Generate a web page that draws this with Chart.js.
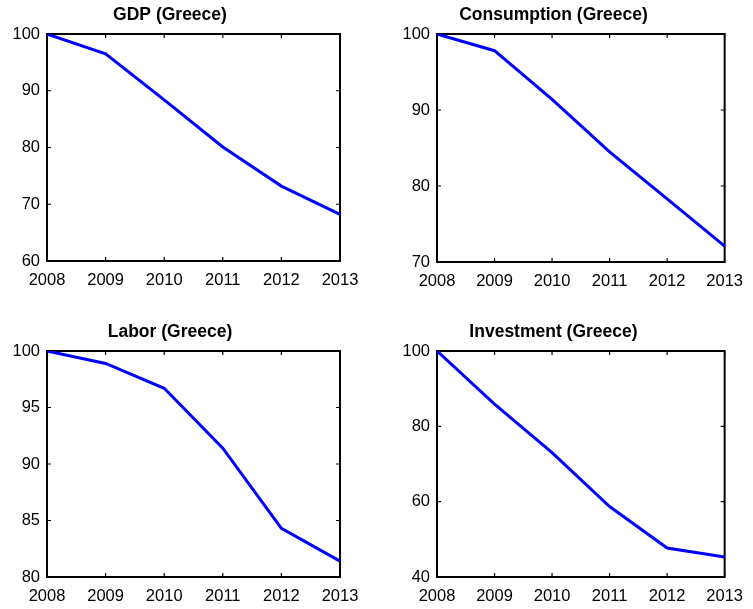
<!DOCTYPE html>
<html>
<head>
<meta charset="utf-8">
<script src="https://cdn.jsdelivr.net/npm/chart.js@4.4.1/dist/chart.umd.min.js"></script>
<style>
  html, body { margin: 0; padding: 0; background: #fff; }
  #fig { position: relative; width: 753px; height: 609px; overflow: hidden; }
  #fig canvas { position: absolute; }
</style>
</head>
<body>
<div id="fig">
  <canvas id="gdpChart" width="376" height="300" style="left:0;top:0"></canvas>
  <canvas id="consChart" width="377" height="300" style="left:376px;top:0"></canvas>
  <canvas id="laborChart" width="376" height="292" style="left:0;top:317px"></canvas>
  <canvas id="invChart" width="377" height="292" style="left:376px;top:317px"></canvas>
</div>
<script>
// Index values, 2008 = 100
const years = ["2008", "2009", "2010", "2011", "2012", "2013"];
const gdp = [100, 96.5, 88.4, 80.1, 73.2, 68.2];
const consumption = [100, 97.8, 91.4, 84.5, 78.3, 72.1];
const labor = [100, 98.9, 96.7, 91.4, 84.3, 81.4];
const investment = [100, 85.9, 73.0, 58.7, 47.7, 45.3];

// y axis [min, max, step]
const gdpAxis = [60, 100, 10];
const consAxis = [70, 100, 10];
const laborAxis = [80, 100, 5];
const invAxis = [40, 100, 20];

const FONT = "'Liberation Sans', Arial, Helvetica, sans-serif";

// MATLAB-like box with inward ticks on all four sides
const boxPlugin = {
  id: "box",
  beforeDatasetsDraw(chart) {
    const { ctx, chartArea: a, scales } = chart;
    const len = 4;
    ctx.save();
    ctx.strokeStyle = "#000";
    ctx.lineWidth = 1.2;
    ctx.beginPath();
    scales.x.ticks.forEach((t, i) => {
      const px = scales.x.getPixelForTick(i);
      ctx.moveTo(px, a.bottom); ctx.lineTo(px, a.bottom - len);
      ctx.moveTo(px, a.top); ctx.lineTo(px, a.top + len);
    });
    scales.y.ticks.forEach((t, i) => {
      const py = scales.y.getPixelForTick(i);
      ctx.moveTo(a.left, py); ctx.lineTo(a.left + len, py);
      ctx.moveTo(a.right, py); ctx.lineTo(a.right - len, py);
    });
    ctx.stroke();
    ctx.lineWidth = 2;
    ctx.strokeRect(a.left, a.top, a.right - a.left, a.bottom - a.top);
    ctx.restore();
  }
};

function makePanel(id, title, values, axis, yWidth, xHeight, padRight) {
  const ctx = document.getElementById(id).getContext("2d");
  return new Chart(ctx, {
    type: "line",
    data: {
      labels: years,
      datasets: [{
        data: values,
        borderColor: "#0000ff",
        borderWidth: 3,
        pointRadius: 0,
        tension: 0,
        fill: false
      }]
    },
    options: {
      responsive: false,
      animation: false,
      layout: { padding: { left: 0, right: padRight, top: 0, bottom: 0 } },
      plugins: {
        legend: { display: false },
        tooltip: { enabled: false },
        title: {
          display: true,
          text: title,
          color: "#000",
          font: { family: FONT, size: 17.5, weight: "bold" },
          padding: { top: 5, bottom: 8 }
        }
      },
      scales: {
        x: {
          type: "category",
          offset: false,
          grid: { display: false, drawTicks: false },
          border: { display: false },
          ticks: {
            color: "#000",
            font: { family: FONT, size: 16.5 },
            padding: 10,
            maxRotation: 0,
            autoSkip: false
          },
          afterFit(scale) { scale.height = xHeight; }
        },
        y: {
          min: axis[0],
          max: axis[1],
          grid: { display: false, drawTicks: false },
          border: { display: false },
          ticks: {
            stepSize: axis[2],
            color: "#000",
            font: { family: FONT, size: 16.5 },
            padding: 7
          },
          afterFit(scale) { scale.width = yWidth; }
        }
      }
    },
    plugins: [boxPlugin]
  });
}

makePanel("gdpChart", "GDP (Greece)", gdp, gdpAxis, 47, 39, 36);
makePanel("consChart", "Consumption (Greece)", consumption, consAxis, 61, 38, 22);
makePanel("laborChart", "Labor (Greece)", labor, laborAxis, 47, 32, 36);
makePanel("invChart", "Investment (Greece)", investment, invAxis, 61, 32, 22);
</script>
</body>
</html>
